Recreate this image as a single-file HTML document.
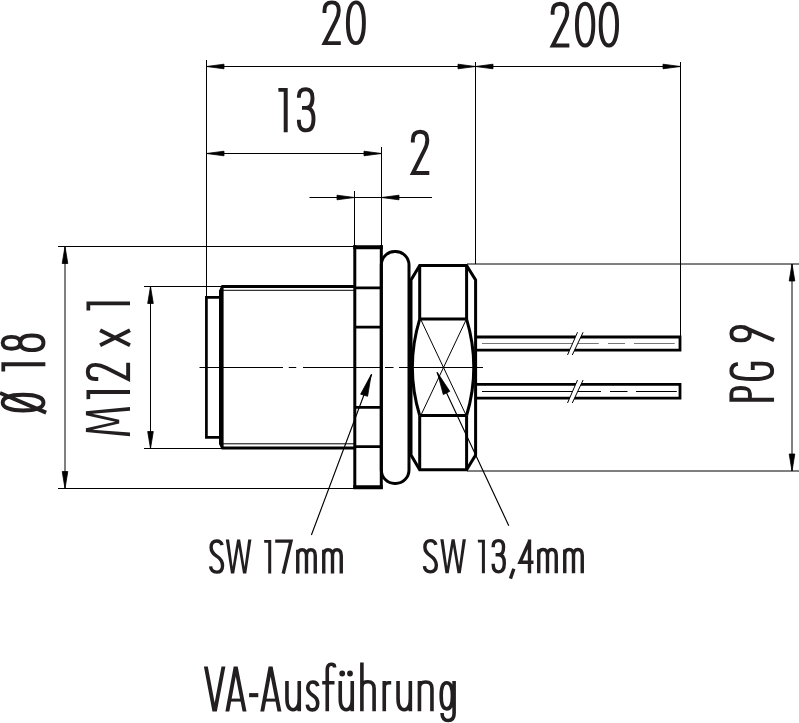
<!DOCTYPE html>
<html><head><meta charset="utf-8">
<style>
html,body{margin:0;padding:0;background:#fff;width:799px;height:723px;overflow:hidden}
svg{position:absolute;left:0;top:0;display:block;will-change:transform}
text{font-family:"Liberation Sans",sans-serif;fill:#231f20}
</style></head><body>
<svg width="799" height="723" viewBox="0 0 799 723">
<g fill="none" stroke="#000" stroke-width="1">
  <!-- dimension 20 / 200 -->
  <path d="M206.5 60V296M475.5 62V264M680.5 62V336"/>
  <path d="M206.5 66.5H680.5"/>
  <!-- 13 -->
  <path d="M206.5 153.5H381.5M381.5 147V246"/>
  <!-- 2 -->
  <path d="M309.5 197.5H432M354.5 191V246"/>
  <!-- O18 -->
  <path d="M65 246.5V488.5M58 246.5H354M58 488.5H354"/>
  <!-- M12 -->
  <path d="M150.5 286.5V448.5M144 286.5H222M144 448.5H222"/>
  <!-- PG9 -->
  <path d="M792 264V471M467 264H799M467 471H799"/>
  <!-- centre line -->
  <path d="M199.5 367.5H283M288.75 367.5H296.25M303 367.5H381M385 367.5H393.5M399 367.5H483"/>
  <!-- X lines -->
  <path d="M421 320L466 415M466 320L421 415"/>
  <!-- leaders -->
  <path d="M371.7 374.2L311.4 535M436.9 372.3L508.8 525.7" stroke-width="1.15"/>
</g>
<!-- arrows -->
<g fill="#000" stroke="#000" stroke-width="0.8" stroke-linejoin="round">
  <path d="M206.5 66.5L224 64.2V68.8Z"/>
  <path d="M475.5 66.5L458 64.2V68.8Z"/>
  <path d="M475.5 66.5L493 64.2V68.8Z"/>
  <path d="M680.5 66.5L663 64.2V68.8Z"/>
  <path d="M206.5 153.5L224 151.2V155.8Z"/>
  <path d="M381.5 153.5L364 151.2V155.8Z"/>
  <path d="M354.5 197.5L337 195.2V199.8Z"/>
  <path d="M381.5 197.5L399 195.2V199.8Z"/>
  <path d="M65 246.5L62.2 263.5H67.8Z"/>
  <path d="M65 488.5L62.2 471.5H67.8Z"/>
  <path d="M150.5 286.5L147.7 303.5H153.3Z"/>
  <path d="M150.5 448.5L147.7 431.5H153.3Z"/>
  <path d="M792 264L789.2 281H794.8Z"/>
  <path d="M792 471L789.2 454H794.8Z"/>
  <path d="M371.2 374.6L360.6 394.2L367.6 396.3Z"/>
  <path d="M437.4 372.6L443.3 394.6L449.8 391.3Z"/>
</g>
<!-- part outline -->
<g fill="none" stroke="#000" stroke-linejoin="miter">
  <!-- front face -->
  <path d="M221 297.4H206.4V437.3H221" stroke-width="2.7"/>
  <!-- body -->
  <path d="M219 290.8L221.6 285H354V287.9H223.6V446.6H354V449.5H221.6L219 444Z" fill="#000" stroke="none"/>
  <path d="M223 290.3H354M223 443.8H354" stroke-width="1"/>
  <!-- nut SW17 -->
  <path d="M354.8 245.3V489M381.3 245.3V489" stroke-width="3"/>
  <path d="M353.3 247.3H382.8M353.3 487.2H382.8" stroke-width="4"/>
  <path d="M356 287.9H380M356 327.2H380M356 407.3H380M356 446.7H380" stroke-width="2.8"/>
  <!-- O-ring -->
  <rect x="381.3" y="251.5" width="27.7" height="232" rx="13.5" ry="13.5" stroke-width="3"/>
  <!-- hex SW13.4 -->
  <path d="M411 280V455L419.7 469.8H466.6L475.6 455V280L466.6 265.4H419.7Z" stroke-width="3"/>
  <path d="M419.7 265.4V319.1M466.6 265.4V319.1M419.7 415.5V469.8M466.6 415.5V469.8M419.7 319.1H466.6M419.7 415.5H466.6" stroke-width="3"/>
  <path d="M419.7 319.1Q405 367.3 419.7 415.5M466.6 319.1Q481 367.3 466.6 415.5" stroke-width="3"/>
  <!-- pins -->
  <path d="M477 337H680V350.1H477M477 384.3H680V398.1H477" stroke-width="2.8"/>
  <path d="M482 343.5H598.75M608 343.5H625M634 343.5H674.7" stroke-width="1" stroke="#777"/>
  <path d="M482 391.5H601M610 391.5H627.5M636 391.5H676.8" stroke-width="1" stroke="#000"/>
</g>
<!-- break marks -->
<g>
  <path d="M567.5 355L577.5 332.25L583.1 332.25L572.25 355Z M567.5 403L577.5 380L583.1 380L572.25 403Z" fill="#fff" stroke="none"/>
  <path d="M567.5 355L577.5 332.25M572.25 355L583.1 332.25M567.5 403L577.5 380M572.25 403L583.1 380" fill="none" stroke="#000" stroke-width="1"/>
</g>
<!-- texts -->
<g stroke-linejoin="miter" stroke-miterlimit="4">
<g transform="translate(0 0.5)"><g transform="translate(322.50 0) scale(0.989)"><path d="M2 12.6V10C2 4.5 5 1.9 9.5 1.9C14 1.9 16.5 4.5 16.5 10C16.5 14 15.3 17 13.5 20.5L2.1 43.1H18.5" fill="none" stroke="#231f20" stroke-width="3.9" vector-effect="non-scaling-stroke"/></g><g transform="translate(346.00 0) scale(0.989)"><path d="M10 1.9C15 1.9 18.1 9.7 18.1 22.5C18.1 35.3 15 43.1 10 43.1C5 43.1 1.9 35.3 1.9 22.5C1.9 9.7 5 1.9 10 1.9Z" fill="none" stroke="#231f20" stroke-width="3.9" vector-effect="non-scaling-stroke"/></g></g>
<g transform="translate(0 1.9)"><g transform="translate(550.60 0) scale(1.013)"><path d="M2 12.6V10C2 4.5 5 1.9 9.5 1.9C14 1.9 16.5 4.5 16.5 10C16.5 14 15.3 17 13.5 20.5L2.1 43.1H18.5" fill="none" stroke="#231f20" stroke-width="3.9" vector-effect="non-scaling-stroke"/></g><g transform="translate(575.00 0) scale(1.013)"><path d="M10 1.9C15 1.9 18.1 9.7 18.1 22.5C18.1 35.3 15 43.1 10 43.1C5 43.1 1.9 35.3 1.9 22.5C1.9 9.7 5 1.9 10 1.9Z" fill="none" stroke="#231f20" stroke-width="3.9" vector-effect="non-scaling-stroke"/></g><g transform="translate(598.75 0) scale(1.013)"><path d="M10 1.9C15 1.9 18.1 9.7 18.1 22.5C18.1 35.3 15 43.1 10 43.1C5 43.1 1.9 35.3 1.9 22.5C1.9 9.7 5 1.9 10 1.9Z" fill="none" stroke="#231f20" stroke-width="3.9" vector-effect="non-scaling-stroke"/></g></g>
<g transform="translate(0 87.3)"><g transform="translate(278.30 0) scale(1.0)"><path d="M0 0.6H9.4V45H5.4V4.4H0.2Z" fill="#231f20"/></g><g transform="translate(297.00 0) scale(1.0)"><path d="M1.9 10.5V9C1.9 4 5 1.9 9 1.9C13.5 1.9 15.5 5 15.5 10.5C15.5 17 13 20.6 9 20.6H5M9 20.6C14 20.6 16.5 24 16.5 31.5C16.5 40 14 43.1 9.2 43.1C4.5 43.1 1.9 40 1.9 34.5V32.5" fill="none" stroke="#231f20" stroke-width="3.9" vector-effect="non-scaling-stroke"/></g></g>
<g transform="translate(0 129.9)"><g transform="translate(410.80 0) scale(1.0)"><path d="M2 12.6V10C2 4.5 5 1.9 9.5 1.9C14 1.9 16.5 4.5 16.5 10C16.5 14 15.3 17 13.5 20.5L2.1 43.1H18.5" fill="none" stroke="#231f20" stroke-width="3.9" vector-effect="non-scaling-stroke"/></g></g>
<g transform="translate(0 539.5)"><g transform="translate(209.20 0) scale(0.758)"><path d="M17 7.5C16 3.5 13.5 1.9 10 1.9C5.5 1.9 2.5 4.5 2.5 10.5C2.5 16.5 6 19 10 22C14.5 25 17.6 28 17.6 34.5C17.6 40.5 14.5 43.1 9.8 43.1C5 43.1 2 40 1.9 35.5" fill="none" stroke="#231f20" stroke-width="3.4" vector-effect="non-scaling-stroke"/></g><g transform="translate(225.80 0) scale(0.758)"><path d="M0 0H4.3L9 36L14.9 0H18.9L24.8 36L29.5 0H33.8L27 45H22.7L16.9 10L11.1 45H6.8Z" fill="#231f20"/></g><g transform="translate(264.10 0) scale(0.758)"><path d="M0 0.6H9.4V45H5.4V4.4H0.2Z" fill="#231f20"/></g><g transform="translate(275.20 0) scale(0.758)"><path d="M0 2.2H20.8L10.6 45" fill="none" stroke="#231f20" stroke-width="3.4" vector-effect="non-scaling-stroke"/></g><g transform="translate(296.00 0) scale(0.758)"><path d="M2.3 45V13.5M2.3 21C2.3 16 4.5 13.5 8 13.5C11.8 13.5 13.85 16 13.85 21.5V45M13.85 21.5C13.85 16 16 13.5 19.6 13.5C23.4 13.5 25.4 16 25.4 21.5V45" fill="none" stroke="#231f20" stroke-width="3.4" vector-effect="non-scaling-stroke"/></g><g transform="translate(322.00 0) scale(0.758)"><path d="M2.3 45V13.5M2.3 21C2.3 16 4.5 13.5 8 13.5C11.8 13.5 13.85 16 13.85 21.5V45M13.85 21.5C13.85 16 16 13.5 19.6 13.5C23.4 13.5 25.4 16 25.4 21.5V45" fill="none" stroke="#231f20" stroke-width="3.4" vector-effect="non-scaling-stroke"/></g></g>
<g transform="translate(0 539.2)"><g transform="translate(423.00 0) scale(0.758)"><path d="M17 7.5C16 3.5 13.5 1.9 10 1.9C5.5 1.9 2.5 4.5 2.5 10.5C2.5 16.5 6 19 10 22C14.5 25 17.6 28 17.6 34.5C17.6 40.5 14.5 43.1 9.8 43.1C5 43.1 2 40 1.9 35.5" fill="none" stroke="#231f20" stroke-width="3.4" vector-effect="non-scaling-stroke"/></g><g transform="translate(440.30 0) scale(0.758)"><path d="M0 0H4.3L9 36L14.9 0H18.9L24.8 36L29.5 0H33.8L27 45H22.7L16.9 10L11.1 45H6.8Z" fill="#231f20"/></g><g transform="translate(477.80 0) scale(0.758)"><path d="M0 0.6H9.4V45H5.4V4.4H0.2Z" fill="#231f20"/></g><g transform="translate(491.80 0) scale(0.758)"><path d="M1.9 10.5V9C1.9 4 5 1.9 9 1.9C13.5 1.9 15.5 5 15.5 10.5C15.5 17 13 20.6 9 20.6H5M9 20.6C14 20.6 16.5 24 16.5 31.5C16.5 40 14 43.1 9.2 43.1C4.5 43.1 1.9 40 1.9 34.5V32.5" fill="none" stroke="#231f20" stroke-width="3.4" vector-effect="non-scaling-stroke"/></g><g transform="translate(509.30 0) scale(0.758)"><path d="M1.5 52L6 39" fill="none" stroke="#231f20" stroke-width="3.4" vector-effect="non-scaling-stroke"/></g><g transform="translate(518.50 0) scale(0.758)"><path d="M14.5 45V0.5M15 1.5L1.9 30.5H19.8" fill="none" stroke="#231f20" stroke-width="3.4" vector-effect="non-scaling-stroke"/></g><g transform="translate(537.00 0) scale(0.758)"><path d="M2.3 45V13.5M2.3 21C2.3 16 4.5 13.5 8 13.5C11.8 13.5 13.85 16 13.85 21.5V45M13.85 21.5C13.85 16 16 13.5 19.6 13.5C23.4 13.5 25.4 16 25.4 21.5V45" fill="none" stroke="#231f20" stroke-width="3.4" vector-effect="non-scaling-stroke"/></g><g transform="translate(563.00 0) scale(0.758)"><path d="M2.3 45V13.5M2.3 21C2.3 16 4.5 13.5 8 13.5C11.8 13.5 13.85 16 13.85 21.5V45M13.85 21.5C13.85 16 16 13.5 19.6 13.5C23.4 13.5 25.4 16 25.4 21.5V45" fill="none" stroke="#231f20" stroke-width="3.4" vector-effect="non-scaling-stroke"/></g></g>
<g transform="translate(0 666.6)"><g transform="translate(203.90 0) scale(1.0)"><path d="M0 0H3.9L10.75 36.05L17.6 0H21.5L12.95 45H8.55Z" fill="#231f20"/></g><g transform="translate(225.40 0) scale(1.0)"><path d="M0 45L8.3 0H12.3L21.1 45H17.2L10.35 10L3.9 45Z" fill="#231f20"/><path d="M5.5 32H15.6V35H5.5Z" fill="#231f20"/></g><g transform="translate(249.10 0) scale(1.0)"><path d="M0 26.5H9.2V30.6H0Z" fill="#231f20"/></g><g transform="translate(260.30 0) scale(1.0)"><path d="M0 45L8.3 0H12.3L21.1 45H17.2L10.35 10L3.9 45Z" fill="#231f20"/><path d="M5.5 32H15.6V35H5.5Z" fill="#231f20"/></g><g transform="translate(285.20 0) scale(1.0)"><path d="M1.75 14.4V32C1.75 40 4 43.1 7.9 43.1C11.8 43.1 14.05 40 14.05 32M14.05 14.4V44.7" fill="none" stroke="#231f20" stroke-width="3.6" vector-effect="non-scaling-stroke"/></g><g transform="translate(305.80 0) scale(1.0)"><path d="M12 19.5C11.3 16.5 9.5 15.4 7 15.4C4 15.4 2 17.5 2 21.5C2 25.5 4.5 27.3 7 28.8C10 30.6 11.9 32.5 11.9 37C11.9 41 9.7 43.3 6.6 43.3C3.7 43.3 1.8 41.5 1.5 38" fill="none" stroke="#231f20" stroke-width="3.6" vector-effect="non-scaling-stroke"/></g><g transform="translate(322.20 0) scale(1.0)"><path d="M12.3 0.8V0C12.3 -1.5 11 -2.3 9 -2.3C6.3 -2.3 5.05 -0.5 5.05 3.5V44.7M0 16.15H12.3" fill="none" stroke="#231f20" stroke-width="3.6" vector-effect="non-scaling-stroke"/></g><g transform="translate(338.50 0) scale(1.0)"><path d="M1.75 14.4V32C1.75 40 4 43.1 7.75 43.1C11.5 43.1 13.75 40 13.75 32M13.75 14.4V44.7" fill="none" stroke="#231f20" stroke-width="3.6" vector-effect="non-scaling-stroke"/><path d="M0.8 6.9A2.9 2.9 0 1 0 6.6 6.9A2.9 2.9 0 1 0 0.8 6.9ZM8.6 6.9A2.9 2.9 0 1 0 14.4 6.9A2.9 2.9 0 1 0 8.6 6.9Z" fill="#231f20"/></g><g transform="translate(360.00 0) scale(1.0)"><path d="M1.9 -4.1V44.7M1.9 21C1.9 16 4.5 15.2 8 15.2C12 15.2 14.1 17 14.1 22V44.7" fill="none" stroke="#231f20" stroke-width="3.6" vector-effect="non-scaling-stroke"/></g><g transform="translate(382.50 0) scale(1.0)"><path d="M1.75 14.4V44.7M1.75 21C1.75 17 3.5 16.2 6 16.2H8.7" fill="none" stroke="#231f20" stroke-width="3.6" vector-effect="non-scaling-stroke"/></g><g transform="translate(396.30 0) scale(1.0)"><path d="M1.75 14.4V32C1.75 40 4 43.1 7.9 43.1C11.8 43.1 14.05 40 14.05 32M14.05 14.4V44.7" fill="none" stroke="#231f20" stroke-width="3.6" vector-effect="non-scaling-stroke"/></g><g transform="translate(417.60 0) scale(1.0)"><path d="M1.85 14.4V44.7M1.85 21C1.85 16.5 4.5 15.4 8 15.4C12 15.4 14.35 17 14.35 22V44.7" fill="none" stroke="#231f20" stroke-width="3.6" vector-effect="non-scaling-stroke"/></g><g transform="translate(439.40 0) scale(1.0)"><path d="M7.3 16.2C3.3 16.2 1.8 21 1.8 29.25C1.8 37.5 3.3 42.3 7.3 42.3C11.3 42.3 13 37.5 13 29.25C13 21 11.3 16.2 7.3 16.2ZM14.7 14.4V47C14.7 51.5 12.5 53.9 8.8 53.9C5 53.9 2.8 52 2.6 46.4" fill="none" stroke="#231f20" stroke-width="3.6" vector-effect="non-scaling-stroke"/></g></g>
<g transform="translate(0.8 412.4) rotate(-90)"><g transform="translate(0.00 0) scale(0.99)"><path d="M9.85 1.9C14.8 1.9 17.8 9.7 17.8 22.5C17.8 35.3 14.8 43.1 9.85 43.1C4.9 43.1 1.9 35.3 1.9 22.5C1.9 9.7 4.9 1.9 9.85 1.9ZM19.6 -0.8L-0.2 45.8" fill="none" stroke="#231f20" stroke-width="3.9" vector-effect="non-scaling-stroke"/></g><g transform="translate(40.80 0) scale(0.99)"><path d="M0 0.6H9.4V45H5.4V4.4H0.2Z" fill="#231f20"/></g><g transform="translate(60.40 0) scale(0.99)"><path d="M9.3 1.9C13 1.9 15.25 4.5 15.25 10.8C15.25 17 13 19.7 9.3 19.7C5.6 19.7 3.35 17 3.35 10.8C3.35 4.5 5.6 1.9 9.3 1.9ZM9.3 19.7C14 19.7 16.7 23 16.7 31.4C16.7 40 14 43.1 9.3 43.1C4.6 43.1 1.9 40 1.9 31.4C1.9 23 4.6 19.7 9.3 19.7Z" fill="none" stroke="#231f20" stroke-width="3.9" vector-effect="non-scaling-stroke"/></g></g>
<g transform="translate(85.9 436.3) rotate(-90)"><g transform="translate(0.00 0) scale(0.98)"><path d="M0 45L4.3 0H8.3L14.9 30L21.5 0H25.5L29.8 45H26L23 6.5L16.8 34H13L6.8 6.5L3.8 45Z" fill="#231f20"/></g><g transform="translate(37.00 0) scale(0.98)"><path d="M0 0.6H9.4V45H5.4V4.4H0.2Z" fill="#231f20"/></g><g transform="translate(55.30 0) scale(0.98)"><path d="M2 12.6V10C2 4.5 5 1.9 9.5 1.9C14 1.9 16.5 4.5 16.5 10C16.5 14 15.3 17 13.5 20.5L2.1 43.1H18.5" fill="none" stroke="#231f20" stroke-width="3.9" vector-effect="non-scaling-stroke"/></g><g transform="translate(89.90 0) scale(0.98)"><path d="M1.2 14.5L16.5 45M16.5 14.5L1.2 45" fill="none" stroke="#231f20" stroke-width="3.9" vector-effect="non-scaling-stroke"/></g><g transform="translate(125.70 0) scale(0.98)"><path d="M0 0.6H9.4V45H5.4V4.4H0.2Z" fill="#231f20"/></g></g>
<g transform="translate(729.5 401.7) rotate(-90)"><g transform="translate(0.00 0) scale(0.99)"><path d="M1.9 45V1.9H8C12.5 1.9 13.9 5 13.9 11.25C13.9 17.5 12.5 20.6 8 20.6H1.9" fill="none" stroke="#231f20" stroke-width="3.9" vector-effect="non-scaling-stroke"/></g><g transform="translate(20.80 0) scale(0.99)"><path d="M17.2 8.5C16.5 3.5 14 1.9 10 1.9C4.5 1.9 1.9 6.5 1.9 22.5C1.9 38.5 4.5 43.1 10 43.1C14.5 43.1 17.4 40 17.4 33V23.5H10.9" fill="none" stroke="#231f20" stroke-width="3.9" vector-effect="non-scaling-stroke"/></g><g transform="translate(59.40 0) scale(0.99)"><path d="M8.75 1.9C13 1.9 15.6 4.5 15.6 11.25C15.6 18 13 20.6 8.75 20.6C4.5 20.6 1.9 18 1.9 11.25C1.9 4.5 4.5 1.9 8.75 1.9ZM15.3 14L2.2 45" fill="none" stroke="#231f20" stroke-width="3.9" vector-effect="non-scaling-stroke"/></g></g>
</g>
</svg>
</body></html>
